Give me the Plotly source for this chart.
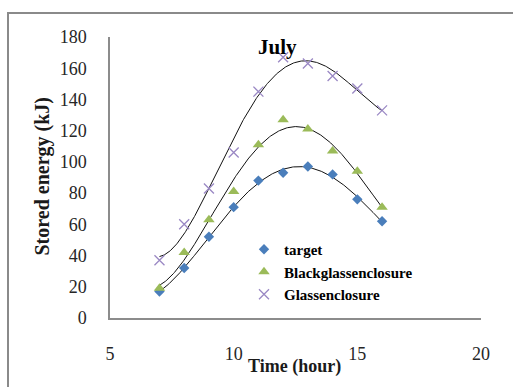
import numpy as np
import plotly.graph_objects as go

# Stored energy over the day (July), three collector configurations
hours = [7, 8, 9, 10, 11, 12, 13, 14, 15, 16]
target = [17, 32, 52, 71, 88, 93, 97, 92, 76, 62]
black_glass = [19, 42, 63, 81, 111, 127, 121, 107, 94, 71]
glass = [37, 60, 83, 106, 145, 167, 163, 155, 147, 133]

series_names = ["target", "Blackglassenclosure", "Glassenclosure"]
x_ticks = [5, 10, 15, 20]
y_ticks = [0, 20, 40, 60, 80, 100, 120, 140, 160, 180]

SERIF = "Liberation Serif"
TREND_ORDER = 4

W, H = 513, 387
L, R, T, B = 110, 32, 37, 69
pw, ph = W - L - R, H - T - B


def px_to_paper(px, py):
    return (px - L) / pw, (H - B - py) / ph


fig = go.Figure()

styles = [
    dict(symbol="diamond", size=8, color="#4a7ebb", line=dict(width=0)),
    dict(symbol="triangle-up", size=10, color="#9bbb59", line=dict(width=0)),
    dict(symbol="x-thin", size=10, color="#9a88c4",
         line=dict(width=1.3, color="#9a88c4")),
]

# polynomial trend lines fitted to each series
xs = np.linspace(min(hours), max(hours), 300)
for vals in (target, black_glass, glass):
    coef = np.polyfit(hours, vals, TREND_ORDER)
    fig.add_trace(go.Scatter(x=xs, y=np.polyval(coef, xs), mode="lines",
                             line=dict(color="#111111", width=1),
                             showlegend=False, hoverinfo="skip"))

for name, vals, mk in zip(series_names, (target, black_glass, glass), styles):
    fig.add_trace(go.Scatter(x=hours, y=vals, mode="markers",
                             name=f"<b>{name}</b>", marker=mk))

axis_common = dict(showgrid=False, zeroline=False, ticks="",
                   showline=True, linecolor="#8c8c8c", linewidth=1.5,
                   tickfont=dict(family=SERIF, size=18, color="#262626"))

fig.update_xaxes(range=[5, 20], tickvals=x_ticks, ticklabelstandoff=19,
                 **axis_common)
fig.update_yaxes(range=[0, 180], tickvals=y_ticks, ticklabelstandoff=18,
                 **axis_common)

# outer chart frame
fx0, fy0 = px_to_paper(8, 13)
fx1, fy1 = px_to_paper(W + 10, H + 10)
fig.add_shape(type="rect", xref="paper", yref="paper",
              x0=fx0, y0=fy1, x1=fx1, y1=fy0,
              line=dict(color="#8a8a8a", width=2), layer="below")

tx, ty = px_to_paper(277, 33)
yx, yy = px_to_paper(28, 176)
xx, xy = px_to_paper(294, 379)
fig.add_annotation(text="<b>July</b>", x=tx, y=ty, xref="paper", yref="paper",
                   showarrow=False, font=dict(family=SERIF, size=21, color="#000"))
fig.add_annotation(text="<b>Stored energy (kJ)</b>", x=yx, y=yy, xref="paper",
                   yref="paper", textangle=-90, showarrow=False,
                   font=dict(family=SERIF, size=20, color="#1a1a1a"))
fig.add_annotation(text="<b>Time (hour)</b>", x=xx, y=xy, xref="paper",
                   yref="paper", showarrow=False,
                   font=dict(family=SERIF, size=18, color="#1a1a1a"))

lx, ly = px_to_paper(244, 233)
fig.update_layout(
    width=W, height=H,
    margin=dict(l=L, r=R, t=T, b=B),
    paper_bgcolor="white", plot_bgcolor="white",
    legend=dict(x=lx, y=ly, xanchor="left", yanchor="top",
                bgcolor="rgba(0,0,0,0)",
                font=dict(family=SERIF, size=15, color="#000"),
                itemwidth=30, tracegroupgap=0),
)

fig.write_html("out.html")
